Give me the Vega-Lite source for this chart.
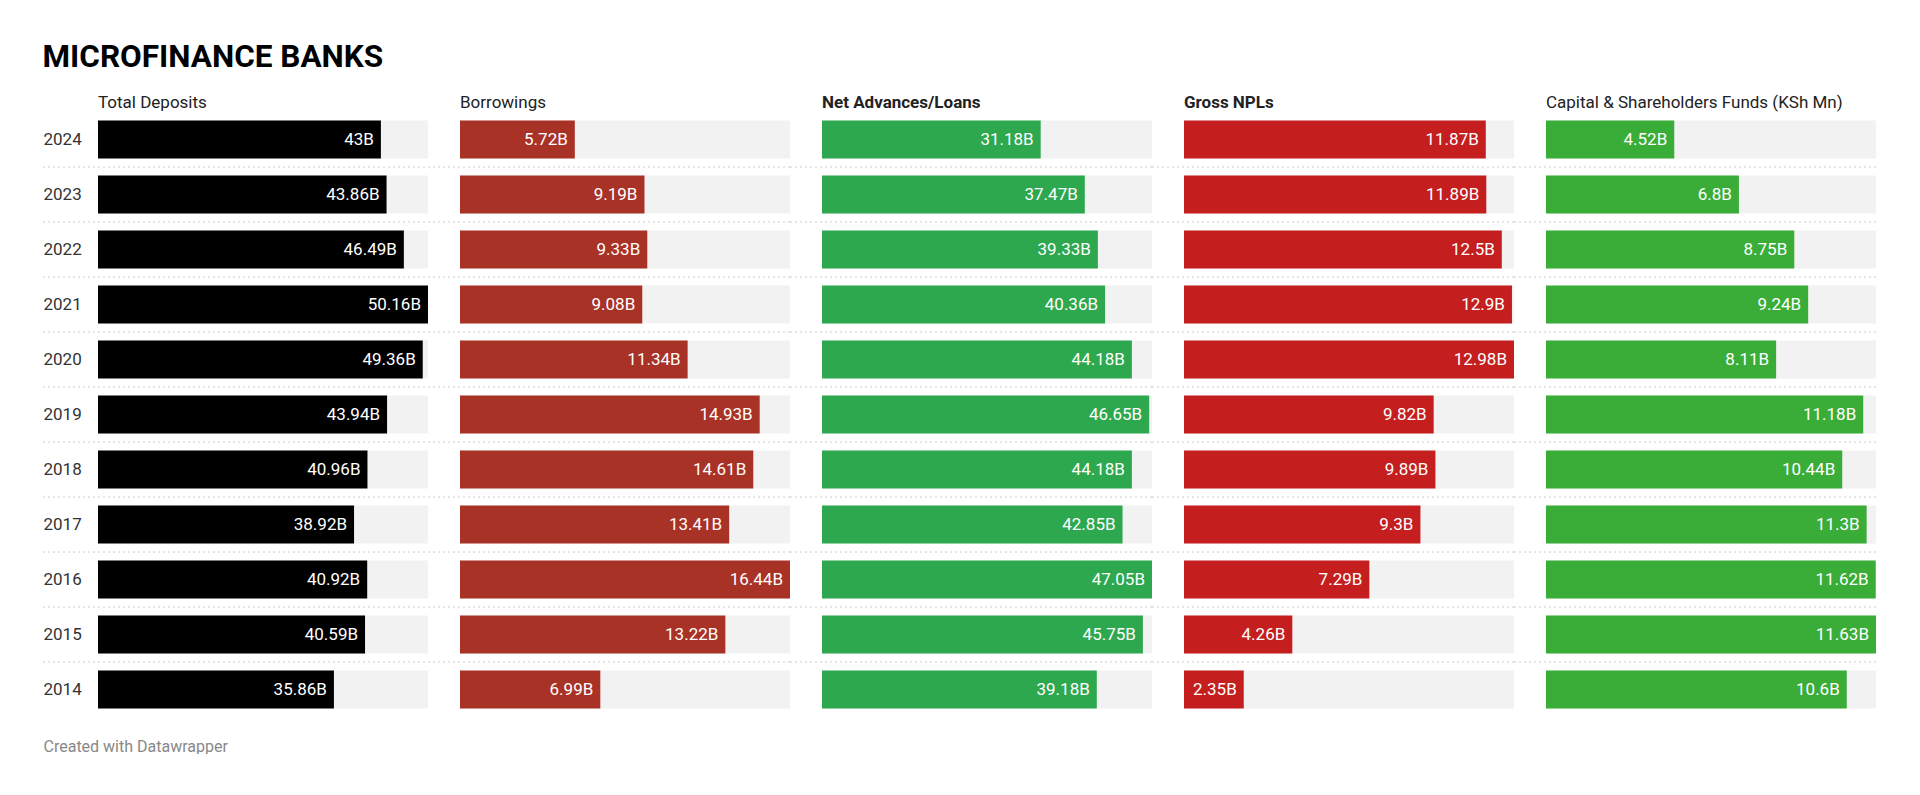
{
  "$schema": "https://vega.github.io/schema/vega-lite/v6.json",
  "padding": {"left": 42, "top": 41, "right": 0, "bottom": 0},
  "background": "white",
  "bounds": "flush",
  "config": {"view": {"stroke": null}, "font": "Roboto"},
  "title": {"text": "MICROFINANCE BANKS", "anchor": "start", "fontSize": 31.5, "fontWeight": "bold", "font": "Roboto", "color": "#000000", "offset": 21},
  "data": {"values": [
    {"year": 2024, "deposits": 43, "borrowings": 5.72, "loans": 31.18, "npls": 11.87, "capital": 4.52},
    {"year": 2023, "deposits": 43.86, "borrowings": 9.19, "loans": 37.47, "npls": 11.89, "capital": 6.8},
    {"year": 2022, "deposits": 46.49, "borrowings": 9.33, "loans": 39.33, "npls": 12.5, "capital": 8.75},
    {"year": 2021, "deposits": 50.16, "borrowings": 9.08, "loans": 40.36, "npls": 12.9, "capital": 9.24},
    {"year": 2020, "deposits": 49.36, "borrowings": 11.34, "loans": 44.18, "npls": 12.98, "capital": 8.11},
    {"year": 2019, "deposits": 43.94, "borrowings": 14.93, "loans": 46.65, "npls": 9.82, "capital": 11.18},
    {"year": 2018, "deposits": 40.96, "borrowings": 14.61, "loans": 44.18, "npls": 9.89, "capital": 10.44},
    {"year": 2017, "deposits": 38.92, "borrowings": 13.41, "loans": 42.85, "npls": 9.3, "capital": 11.3},
    {"year": 2016, "deposits": 40.92, "borrowings": 16.44, "loans": 47.05, "npls": 7.29, "capital": 11.62},
    {"year": 2015, "deposits": 40.59, "borrowings": 13.22, "loans": 45.75, "npls": 4.26, "capital": 11.63},
    {"year": 2014, "deposits": 35.86, "borrowings": 6.99, "loans": 39.18, "npls": 2.35, "capital": 10.6}
  ]},
  "spacing": 32,
  "hconcat": [
    {
      "width": 330, "height": 605,
      "title": {"text": "Total Deposits", "anchor": "start", "frame": "group", "fontSize": 17, "fontWeight": "normal", "color": "#222222", "offset": 0},
      "transform": [
        {"joinaggregate": [{"op": "max", "field": "deposits", "as": "mx"}]},
        {"calculate": "format(datum.deposits, '.2~f') + 'B'", "as": "lbl"},
        {"calculate": "0", "as": "z"}
      ],
      "encoding": {"y": {"field": "year", "type": "ordinal", "sort": "descending",
        "scale": {"paddingInner": 0.31, "paddingOuter": 0.155},
        "axis": {"title": null, "domain": false, "ticks": false, "labelAlign": "left", "labelPadding": 55, "minExtent": 55, "maxExtent": 55, "labelFontSize": 17, "labelColor": "#333333", "labelFont": "Roboto"}}},
      "layer": [
        {"mark": {"type": "bar", "color": "#f2f2f2"}, "encoding": {"x": {"field": "mx", "type": "quantitative", "scale": {"nice": false, "zero": true},
          "axis": {"title": "Created with Datawrapper", "labels": false, "ticks": false, "domain": false, "grid": false, "titleAnchor": "start", "titleX": -55, "titlePadding": 21, "titleFontSize": 16, "titleFontWeight": "normal", "titleColor": "#888888", "titleFont": "Roboto"}}}},
        {"transform": [{"filter": "datum.year != 2024"}], "mark": {"type": "rule", "strokeDash": [2, 3], "color": "#cccccc", "strokeWidth": 1, "yOffset": -8.5, "xOffset": -55}, "encoding": {"y": {"field": "year", "type": "ordinal", "sort": "descending", "bandPosition": 0}, "x": {"field": "z", "type": "quantitative"}, "x2": {"field": "mx"}}},
        {"mark": {"type": "bar", "color": "#000000"}, "encoding": {"x": {"field": "deposits", "type": "quantitative"}}},
        {"mark": {"type": "text", "align": "right", "dx": -7, "color": "white", "fontSize": 17, "font": "Roboto"}, "encoding": {"x": {"field": "deposits", "type": "quantitative"}, "text": {"field": "lbl"}}}
      ]
    },
    {
      "width": 330, "height": 605,
      "title": {"text": "Borrowings", "anchor": "start", "frame": "group", "fontSize": 17, "fontWeight": "normal", "color": "#222222", "offset": 0},
      "transform": [
        {"joinaggregate": [{"op": "max", "field": "borrowings", "as": "mx"}]},
        {"calculate": "format(datum.borrowings, '.2~f') + 'B'", "as": "lbl"},
        {"calculate": "0", "as": "z"}
      ],
      "encoding": {"y": {"field": "year", "type": "ordinal", "sort": "descending", "scale": {"paddingInner": 0.31, "paddingOuter": 0.155}, "axis": null}},
      "layer": [
        {"mark": {"type": "bar", "color": "#f2f2f2"}, "encoding": {"x": {"field": "mx", "type": "quantitative", "scale": {"nice": false, "zero": true}, "axis": null}}},
        {"transform": [{"filter": "datum.year != 2024"}], "mark": {"type": "rule", "strokeDash": [2, 3], "color": "#cccccc", "strokeWidth": 1, "yOffset": -8.5, "xOffset": -32}, "encoding": {"y": {"field": "year", "type": "ordinal", "sort": "descending", "bandPosition": 0}, "x": {"field": "z", "type": "quantitative"}, "x2": {"field": "mx"}}},
        {"mark": {"type": "bar", "color": "#a93226"}, "encoding": {"x": {"field": "borrowings", "type": "quantitative"}}},
        {"mark": {"type": "text", "align": "right", "dx": -7, "color": "white", "fontSize": 17, "font": "Roboto"}, "encoding": {"x": {"field": "borrowings", "type": "quantitative"}, "text": {"field": "lbl"}}}
      ]
    },
    {
      "width": 330, "height": 605,
      "title": {"text": "Net Advances/Loans", "anchor": "start", "frame": "group", "fontSize": 17, "fontWeight": "bold", "color": "#222222", "offset": 0},
      "transform": [
        {"joinaggregate": [{"op": "max", "field": "loans", "as": "mx"}]},
        {"calculate": "format(datum.loans, '.2~f') + 'B'", "as": "lbl"},
        {"calculate": "0", "as": "z"}
      ],
      "encoding": {"y": {"field": "year", "type": "ordinal", "sort": "descending", "scale": {"paddingInner": 0.31, "paddingOuter": 0.155}, "axis": null}},
      "layer": [
        {"mark": {"type": "bar", "color": "#f2f2f2"}, "encoding": {"x": {"field": "mx", "type": "quantitative", "scale": {"nice": false, "zero": true}, "axis": null}}},
        {"transform": [{"filter": "datum.year != 2024"}], "mark": {"type": "rule", "strokeDash": [2, 3], "color": "#cccccc", "strokeWidth": 1, "yOffset": -8.5, "xOffset": -32}, "encoding": {"y": {"field": "year", "type": "ordinal", "sort": "descending", "bandPosition": 0}, "x": {"field": "z", "type": "quantitative"}, "x2": {"field": "mx"}}},
        {"mark": {"type": "bar", "color": "#2ea84e"}, "encoding": {"x": {"field": "loans", "type": "quantitative"}}},
        {"mark": {"type": "text", "align": "right", "dx": -7, "color": "white", "fontSize": 17, "font": "Roboto"}, "encoding": {"x": {"field": "loans", "type": "quantitative"}, "text": {"field": "lbl"}}}
      ]
    },
    {
      "width": 330, "height": 605,
      "title": {"text": "Gross NPLs", "anchor": "start", "frame": "group", "fontSize": 17, "fontWeight": "bold", "color": "#222222", "offset": 0},
      "transform": [
        {"joinaggregate": [{"op": "max", "field": "npls", "as": "mx"}]},
        {"calculate": "format(datum.npls, '.2~f') + 'B'", "as": "lbl"},
        {"calculate": "0", "as": "z"}
      ],
      "encoding": {"y": {"field": "year", "type": "ordinal", "sort": "descending", "scale": {"paddingInner": 0.31, "paddingOuter": 0.155}, "axis": null}},
      "layer": [
        {"mark": {"type": "bar", "color": "#f2f2f2"}, "encoding": {"x": {"field": "mx", "type": "quantitative", "scale": {"nice": false, "zero": true}, "axis": null}}},
        {"transform": [{"filter": "datum.year != 2024"}], "mark": {"type": "rule", "strokeDash": [2, 3], "color": "#cccccc", "strokeWidth": 1, "yOffset": -8.5, "xOffset": -32}, "encoding": {"y": {"field": "year", "type": "ordinal", "sort": "descending", "bandPosition": 0}, "x": {"field": "z", "type": "quantitative"}, "x2": {"field": "mx"}}},
        {"mark": {"type": "bar", "color": "#c41e1e"}, "encoding": {"x": {"field": "npls", "type": "quantitative"}}},
        {"mark": {"type": "text", "align": "right", "dx": -7, "color": "white", "fontSize": 17, "font": "Roboto"}, "encoding": {"x": {"field": "npls", "type": "quantitative"}, "text": {"field": "lbl"}}}
      ]
    },
    {
      "width": 330, "height": 605,
      "title": {"text": "Capital & Shareholders Funds (KSh Mn)", "anchor": "start", "frame": "group", "fontSize": 17, "fontWeight": "normal", "color": "#222222", "offset": 0},
      "transform": [
        {"joinaggregate": [{"op": "max", "field": "capital", "as": "mx"}]},
        {"calculate": "format(datum.capital, '.2~f') + 'B'", "as": "lbl"},
        {"calculate": "0", "as": "z"}
      ],
      "encoding": {"y": {"field": "year", "type": "ordinal", "sort": "descending", "scale": {"paddingInner": 0.31, "paddingOuter": 0.155}, "axis": null}},
      "layer": [
        {"mark": {"type": "bar", "color": "#f2f2f2"}, "encoding": {"x": {"field": "mx", "type": "quantitative", "scale": {"nice": false, "zero": true}, "axis": null}}},
        {"transform": [{"filter": "datum.year != 2024"}], "mark": {"type": "rule", "strokeDash": [2, 3], "color": "#cccccc", "strokeWidth": 1, "yOffset": -8.5, "xOffset": -32}, "encoding": {"y": {"field": "year", "type": "ordinal", "sort": "descending", "bandPosition": 0}, "x": {"field": "z", "type": "quantitative"}, "x2": {"field": "mx"}}},
        {"mark": {"type": "bar", "color": "#3aad38"}, "encoding": {"x": {"field": "capital", "type": "quantitative"}}},
        {"mark": {"type": "text", "align": "right", "dx": -7, "color": "white", "fontSize": 17, "font": "Roboto"}, "encoding": {"x": {"field": "capital", "type": "quantitative"}, "text": {"field": "lbl"}}}
      ]
    }
  ]
}
